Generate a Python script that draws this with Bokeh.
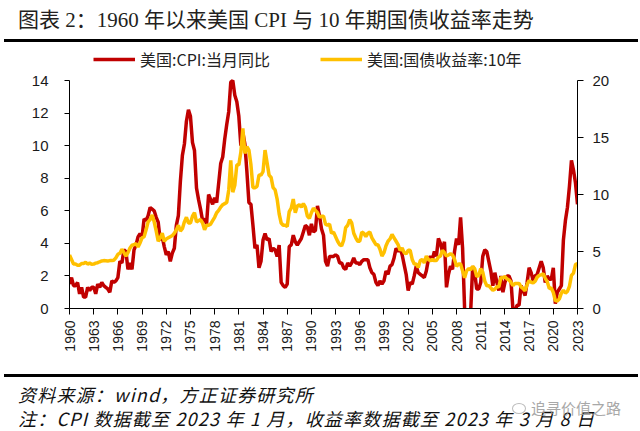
import math
from bokeh.plotting import figure
from bokeh.layouts import column
from bokeh.models import (Range1d, LinearAxis, FixedTicker, Legend, LegendItem, Div)
from bokeh.embed import file_html
from bokeh.resources import INLINE

# ---------------- data (quarterly readings: Jan / Apr / Jul / Oct) ----------------
years = list(range(1960, 2023))
quarter_offsets = [0.0, 0.25, 0.5, 0.75]
last_time = 2023.0

# US CPI YoY (%), left axis (capped at its 14 top)
cpi = [
    1.5, 1.9, 1.4, 1.4,   1.6, 0.9, 1.3, 0.7,   0.7, 1.3, 1.1, 1.3,   1.3, 0.9, 1.5, 1.3,
    1.6, 1.4, 1.3, 1.2,   1.0, 1.7, 1.6, 1.7,   1.9, 2.9, 2.8, 3.6,   3.5, 2.4, 2.8, 2.4,
    3.6, 3.9, 4.4, 4.6,   4.4, 5.5, 5.4, 5.7,   6.2, 6.1, 6.0, 5.6,   5.3, 4.2, 4.4, 3.8,
    3.3, 3.5, 2.9, 3.4,   3.7, 5.1, 5.7, 7.8,   9.4, 10.1, 11.5, 12.2, 11.8, 10.2, 9.7, 7.4,
    6.7, 6.1, 5.4, 5.5,   5.2, 7.0, 6.7, 6.4,   6.8, 6.5, 7.7, 8.9,   9.3, 10.4, 11.3, 12.1,
    13.9, 14.0, 13.1, 12.7, 11.8, 10.0, 10.8, 10.1, 8.4, 6.5, 6.4, 5.1, 3.7, 3.9, 2.5, 2.9,
    4.2, 4.6, 4.2, 4.3,   3.5, 3.7, 3.6, 3.2,   3.9, 1.6, 1.4, 1.3,   1.5, 3.8, 3.9, 4.5,
    4.1, 3.9, 4.1, 4.3,   4.7, 5.1, 5.0, 4.5,   5.2, 4.7, 4.8, 6.3,   5.7, 4.9, 4.5, 2.9,
    2.6, 3.2, 3.2, 3.2,   3.3, 3.2, 2.8, 2.8,   2.5, 2.4, 2.8, 2.6,   2.8, 3.1, 2.8, 2.8,
    2.7, 2.9, 3.0, 3.0,   3.0, 2.5, 2.2, 2.1,   1.6, 1.4, 1.7, 1.5,   1.7, 2.3, 2.1, 2.6,
    2.7, 3.1, 3.7, 3.5,   3.7, 3.3, 2.7, 2.1,   1.1, 1.6, 1.5, 2.0,   2.6, 2.2, 2.1, 2.0,
    1.9, 2.3, 3.0, 3.2,   3.0, 3.5, 3.2, 4.3,   4.0, 3.5, 4.1, 1.3,   2.1, 2.6, 2.4, 3.5,
    4.3, 3.9, 5.6, 3.7,   0.0, -0.7, -2.1, -0.2, 2.6, 2.2, 1.2, 1.2,  1.6, 3.2, 3.6, 3.5,
    2.9, 2.3, 1.4, 2.2,   1.6, 1.1, 2.0, 1.0,   1.6, 2.0, 2.0, 1.7,   -0.1, -0.2, 0.2, 0.2,
    1.4, 1.1, 0.8, 1.6,   2.5, 2.2, 1.7, 2.0,   2.1, 2.5, 2.9, 2.5,   1.6, 2.0, 1.8, 1.8,
    2.5, 0.3, 1.0, 1.2,   1.4, 4.2, 5.4, 6.2,   7.5, 9.1, 8.5, 7.7,
    6.4,
]

# US 10Y Treasury yield (%), right axis
yld = [
    4.7, 4.3, 3.9, 3.9,   3.8, 3.8, 3.95, 3.95, 4.05, 3.9, 3.98, 3.88, 3.9, 3.98, 4.02, 4.1,
    4.17, 4.2, 4.19, 4.17, 4.2, 4.21, 4.24, 4.45, 4.75, 4.85, 5.2, 4.9,  4.6, 4.9, 5.3, 5.55,
    5.6, 5.7, 5.4, 5.75,  6.2, 6.3, 6.9, 7.6,   7.8, 8.2, 7.6, 6.8,   5.9, 6.2, 6.6, 5.9,
    6.1, 6.2, 6.3, 6.4,   6.6, 6.9, 7.3, 6.8,   7.0, 7.6, 8.0, 7.5,   7.5, 8.1, 8.4, 7.6,
    7.7, 7.8, 7.5, 6.9,   7.3, 7.3, 7.4, 7.7,   8.0, 8.4, 8.6, 8.9,   9.1, 9.2, 9.3, 10.4,
    13.0, 10.2, 10.8, 12.6, 12.6, 13.7, 15.8, 13.6, 14.2, 13.9, 12.6, 10.6, 10.6, 10.7, 11.7, 11.7,
    12.0, 13.9, 12.8, 11.7, 11.5, 10.6, 10.4, 9.6, 8.3, 7.5, 7.3, 7.3,  7.2, 8.5, 8.8, 9.6,
    8.4, 9.0, 9.1, 8.9,   9.2, 8.9, 8.1, 7.9,   8.4, 8.8, 8.6, 8.4,   8.0, 8.1, 8.1, 7.4,
    7.3, 7.4, 6.6, 6.7,   6.3, 5.9, 5.6, 5.5,   6.0, 7.1, 7.3, 7.8,   7.5, 6.6, 6.2, 5.9,
    5.9, 6.7, 6.6, 6.3,   6.6, 6.7, 6.2, 5.9,   5.6, 5.6, 5.2, 4.6,   4.9, 5.5, 5.9, 6.1,
    6.5, 6.2, 5.9, 5.6,   5.1, 5.3, 4.9, 4.8,   5.1, 5.1, 4.3, 3.9,   3.9, 3.6, 4.2, 4.3,
    4.0, 4.6, 4.3, 4.2,   4.3, 4.2, 4.2, 4.5,   4.6, 5.1, 4.9, 4.6,   4.7, 4.8, 4.7, 4.3,
    3.7, 3.9, 3.9, 3.3,   2.7, 3.3, 3.5, 3.4,   3.7, 3.5, 2.8, 2.9,   3.5, 3.2, 2.4, 2.0,
    2.0, 1.8, 1.6, 1.7,   1.9, 1.9, 2.7, 2.7,   2.8, 2.6, 2.5, 2.3,   2.0, 2.2, 2.2, 2.2,
    1.9, 1.75, 1.55, 2.1, 2.45, 2.3, 2.25, 2.4, 2.75, 2.9, 2.95, 3.05, 2.65, 2.35, 1.75, 1.8,
    1.4, 0.7, 0.65, 0.85, 1.35, 1.6, 1.35, 1.5,  1.95, 2.9, 3.1, 3.85,
    3.95,
]

x_ticks = [1960, 1963, 1966, 1969, 1972, 1975, 1978, 1981, 1984, 1987, 1990,
           1993, 1996, 1999, 2002, 2005, 2008, 2011, 2014, 2017, 2020, 2023]
left_ticks = [0, 2, 4, 6, 8, 10, 12, 14]
right_ticks = [0, 5, 10, 15, 20]
left_max = 14
right_max = 20

title_text = "图表 2：1960 年以来美国 CPI 与 10 年期国债收益率走势"
cpi_label = "美国:CPI:当月同比"
yld_label = "美国:国债收益率:10年"
source_text = "资料来源：wind，方正证券研究所"
note_text = "注：CPI 数据截至 2023 年 1 月，收益率数据截至 2023 年 3 月 8 日"
watermark_text = "追寻价值之路"

t = [y + q for y in years for q in quarter_offsets] + [last_time]

# ---------------- geometry ----------------
W = 640
axis_px = 228          # height of the 0..max axes
legend_px = 32         # extra frame room above the axes for the legend
frame_h = axis_px + legend_px
stretch = frame_h / axis_px

# ---------------- title block ----------------
title_div = Div(
    text=('<div style="margin-left:4px;width:634px;height:42px;box-sizing:border-box;'
          'border-bottom:3px solid #000;padding-left:14px;padding-top:6px;'
          "font-family:'Liberation Serif','Noto Sans CJK SC',serif;"
          'font-size:21px;line-height:28px;color:#231f20;white-space:nowrap;">'
          + title_text + '</div>'),
    width=W, height=42, margin=(0, 0, 0, 0))

# ---------------- figure ----------------
p = figure(x_range=Range1d(1960, 2023), y_range=Range1d(0, left_max * stretch),
           frame_width=508, frame_height=frame_h,
           min_border_left=69, min_border_right=63,
           min_border_top=6, min_border_bottom=64,
           output_backend="svg", toolbar_location=None)
p.extra_y_ranges = {"right": Range1d(0, right_max * stretch)}
p.outline_line_color = None
p.xgrid.visible = False
p.ygrid.visible = False
p.background_fill_color = "white"
p.border_fill_color = "white"
p.margin = (0, 0, 0, 0)

axis_font = "Liberation Sans"
axis_color = "#1a1a1a"

xa = p.xaxis[0]
xa.ticker = FixedTicker(ticks=x_ticks)
xa.major_label_orientation = math.pi / 2
xa.major_tick_in = 0
xa.major_tick_out = 6
xa.minor_tick_line_color = None
xa.major_label_standoff = 6
xa.major_label_text_font = axis_font
xa.major_label_text_font_size = "14px"
xa.major_label_text_color = axis_color
xa.axis_line_color = "black"

ya = p.yaxis[0]
ya.ticker = FixedTicker(ticks=left_ticks)
ya.bounds = (0, left_max)
ya.major_tick_in = 0
ya.major_tick_out = 5
ya.minor_tick_line_color = None
ya.major_label_standoff = 16
ya.major_label_text_font = axis_font
ya.major_label_text_font_size = "15px"
ya.major_label_text_color = axis_color
ya.axis_line_color = "black"

ra = LinearAxis(y_range_name="right", ticker=FixedTicker(ticks=right_ticks),
                bounds=(0, right_max))
ra.major_tick_in = 0
ra.major_tick_out = 6
ra.minor_tick_line_color = None
ra.major_label_standoff = 9
ra.major_label_text_font = axis_font
ra.major_label_text_font_size = "15px"
ra.major_label_text_color = axis_color
ra.axis_line_color = "black"
p.add_layout(ra, "right")

r_cpi = p.line(t, cpi, line_color="#C00000", line_width=3.5)
r_yld = p.line(t, yld, line_color="#FFC000", line_width=3.5, y_range_name="right")

legend = Legend(items=[LegendItem(label=cpi_label, renderers=[r_cpi]),
                       LegendItem(label=yld_label, renderers=[r_yld])],
                orientation="horizontal", location=(24, frame_h - 23),
                glyph_width=42, glyph_height=18, label_standoff=5, spacing=50,
                padding=0, margin=0, border_line_color=None,
                background_fill_alpha=0,
                label_text_font="Noto Sans CJK SC", label_text_font_size="16px",
                label_text_color="#222222")
p.add_layout(legend)

# ---------------- footer block ----------------
footer_div = Div(
    text=('<div style="position:relative;margin-left:4px;margin-top:2px;width:634px;'
          'height:56px;box-sizing:border-box;'
          'border-top:3px solid #000;padding-top:5px;padding-left:14px;'
          "font-family:'Noto Sans CJK SC',sans-serif;font-style:italic;"
          'font-size:18px;line-height:24px;letter-spacing:1.2px;color:#111;white-space:nowrap;">'
          '<div>' + source_text + '</div>'
          '<div>' + note_text + '</div>'
          '<span style="position:absolute;left:508px;top:26px;width:14px;height:11px;'
          'border:1.5px solid #aaa;border-radius:50%;opacity:0.8;"></span>'
          '<span style="position:absolute;left:527px;top:21px;font-style:normal;'
          'font-size:15px;line-height:20px;letter-spacing:0;color:#999;opacity:0.85;">'
          + watermark_text + '</span>'
          '</div>'),
    width=W, height=58, margin=(0, 0, 0, 0))

layout = column(title_div, p, footer_div, spacing=0)

open("out.html", "w").write(file_html(layout, INLINE))
